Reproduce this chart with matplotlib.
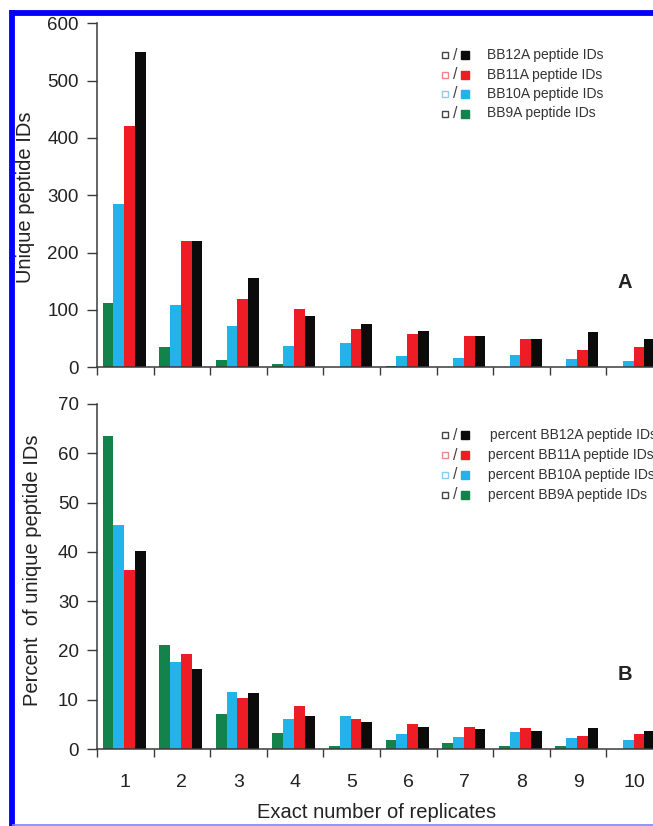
import matplotlib
matplotlib.use("Agg")
import matplotlib.pyplot as plt
import numpy as np
from matplotlib.ticker import FixedLocator

plt.rcParams['font.family'] = ['Liberation Sans', 'DejaVu Sans']

# ---- data ----
replicates = [1, 2, 3, 4, 5, 6, 7, 8, 9, 10]
tick_labels = ["1", "2", "3", "4", "5", "6", "7", "8", "9", "10"]

bb9a_ids = [112, 36, 13, 5, 1, 2, 1, 1, 1, 0]
bb10a_ids = [285, 109, 72, 38, 42, 19, 16, 21, 15, 11]
bb11a_ids = [421, 221, 119, 101, 66, 58, 54, 49, 31, 35]
bb12a_ids = [550, 221, 156, 90, 75, 63, 54, 49, 61, 49]

bb9a_pct = [63.5, 21.1, 7.2, 3.3, 0.7, 1.8, 1.2, 0.6, 0.7, 0.0]
bb10a_pct = [45.5, 17.6, 11.6, 6.1, 6.7, 3.0, 2.4, 3.4, 2.2, 1.8]
bb11a_pct = [36.3, 19.2, 10.3, 8.8, 6.1, 5.0, 4.5, 4.3, 2.7, 3.0]
bb12a_pct = [40.2, 16.3, 11.3, 6.7, 5.5, 4.5, 4.0, 3.7, 4.3, 3.7]

top_legend = ["BB12A peptide IDs", "BB11A peptide IDs", "BB10A peptide IDs", "BB9A peptide IDs"]
bot_legend = ["percent BB12A peptide IDs", "percent BB11A peptide IDs",
              "percent BB10A peptide IDs", "percent BB9A peptide IDs"]

# ---- style ----
C_GREEN = "#13834b"
C_CYAN = "#22b3e8"
C_RED = "#ee1c25"
C_BLACK = "#0b0b0b"
C_AX = "#3a3a3a"
TXT = "#222222"

W, H = 653, 826
fig = plt.figure(figsize=(W / 100, H / 100), dpi=100)
fig.patch.set_facecolor("white")


def px_axes(x0, ytop, x1, ybot):
    return [x0 / W, 1 - ybot / H, (x1 - x0) / W, (ybot - ytop) / H]


ax1 = fig.add_axes(px_axes(97, 23.3, 663, 367.3))
ax2 = fig.add_axes(px_axes(97, 404, 663, 749))

x = np.array(replicates, dtype=float)
bw = 0.19
off = -0.02


def draw(ax, series, ymax, step):
    cols = [C_GREEN, C_CYAN, C_RED, C_BLACK]
    for k, (vals, c) in enumerate(zip(series, cols)):
        ax.bar(x + off + (k - 1.5) * bw, vals, width=bw, color=c, edgecolor="none", zorder=2)
    ax.set_xlim(0.5, 10.5)
    ax.set_ylim(0, ymax)
    ax.set_yticks(np.arange(0, ymax + 1, step))
    for s in ["top", "right"]:
        ax.spines[s].set_visible(False)
    for s in ["left", "bottom"]:
        ax.spines[s].set_color(C_AX)
        ax.spines[s].set_linewidth(1.1)
    ax.tick_params(axis="y", direction="out", length=7, width=1.0, color=C_AX,
                   labelsize=13.5, labelcolor=TXT, pad=6)
    ax.xaxis.set_minor_locator(FixedLocator(np.arange(0.5, 10.6, 1.0)))
    ax.tick_params(axis="x", which="minor", direction="out", length=6, width=1.0, color=C_AX)
    ax.set_xticks(x)
    ax.tick_params(axis="x", which="major", length=0, labelsize=14, labelcolor=TXT, pad=18)
    ax.set_facecolor("white")


draw(ax1, [bb9a_ids, bb10a_ids, bb11a_ids, bb12a_ids], 600, 100)
ax1.set_xticklabels([])
draw(ax2, [bb9a_pct, bb10a_pct, bb11a_pct, bb12a_pct], 70, 10)
ax2.set_xticklabels(tick_labels)

# overlay in pixel coordinates for annotations
ov = fig.add_axes([0, 0, 1, 1], facecolor="none")
ov.set_xlim(0, W)
ov.set_ylim(H, 0)
ov.axis("off")

# blue frame
ov.plot([9.5, W], [12.5, 12.5], color="#0000ff", lw=4.2, solid_capstyle="butt")
ov.plot([12, 12], [10, H], color="#0000ff", lw=4.2, solid_capstyle="butt")
ov.plot([12, W], [825, 825], color="#7f7fff", lw=1.2, solid_capstyle="butt")

# axis labels
ov.text(26, 197, "Unique peptide IDs", rotation=90, ha="center", va="center",
        fontsize=14.5, color=TXT)
ov.text(33, 570, "Percent  of unique peptide IDs", rotation=90, ha="center", va="center",
        fontsize=14.5, color=TXT)
ov.text(377, 813, "Exact number of replicates", ha="center", va="center",
        fontsize=14.5, color=TXT)

# panel letters
ov.text(625, 282, "A", ha="center", va="center", fontsize=14.5, fontweight="bold", color=TXT)
ov.text(625, 675, "B", ha="center", va="center", fontsize=14.5, fontweight="bold", color=TXT)

# custom legends
open_cols = ["#444444", "#ee8888", "#88ccee", "#444444"]
fill_cols = [C_BLACK, C_RED, C_CYAN, C_GREEN]


def legend(rows_y, labels, tx):
    for yy, lab, oc, fc, t in zip(rows_y, labels, open_cols, fill_cols, tx):
        ov.plot([445], [yy], marker="s", ms=4.4, mfc="white", mec=oc, mew=1.0, ls="none")
        ov.text(455, yy, "/", ha="center", va="center", fontsize=11.5, color="#444444")
        ov.plot([465], [yy], marker="s", ms=5.2, mfc=fc, mec=fc, ls="none")
        ov.text(t, yy, lab, ha="left", va="center", fontsize=10, color="#333333")


legend([55, 74.5, 94, 113.5], top_legend, [487, 487, 487, 487])
legend([435, 455, 474.5, 494.5], bot_legend, [489.5, 487.5, 487.5, 487.5])

fig.savefig("out.png", dpi=100, facecolor="white")
